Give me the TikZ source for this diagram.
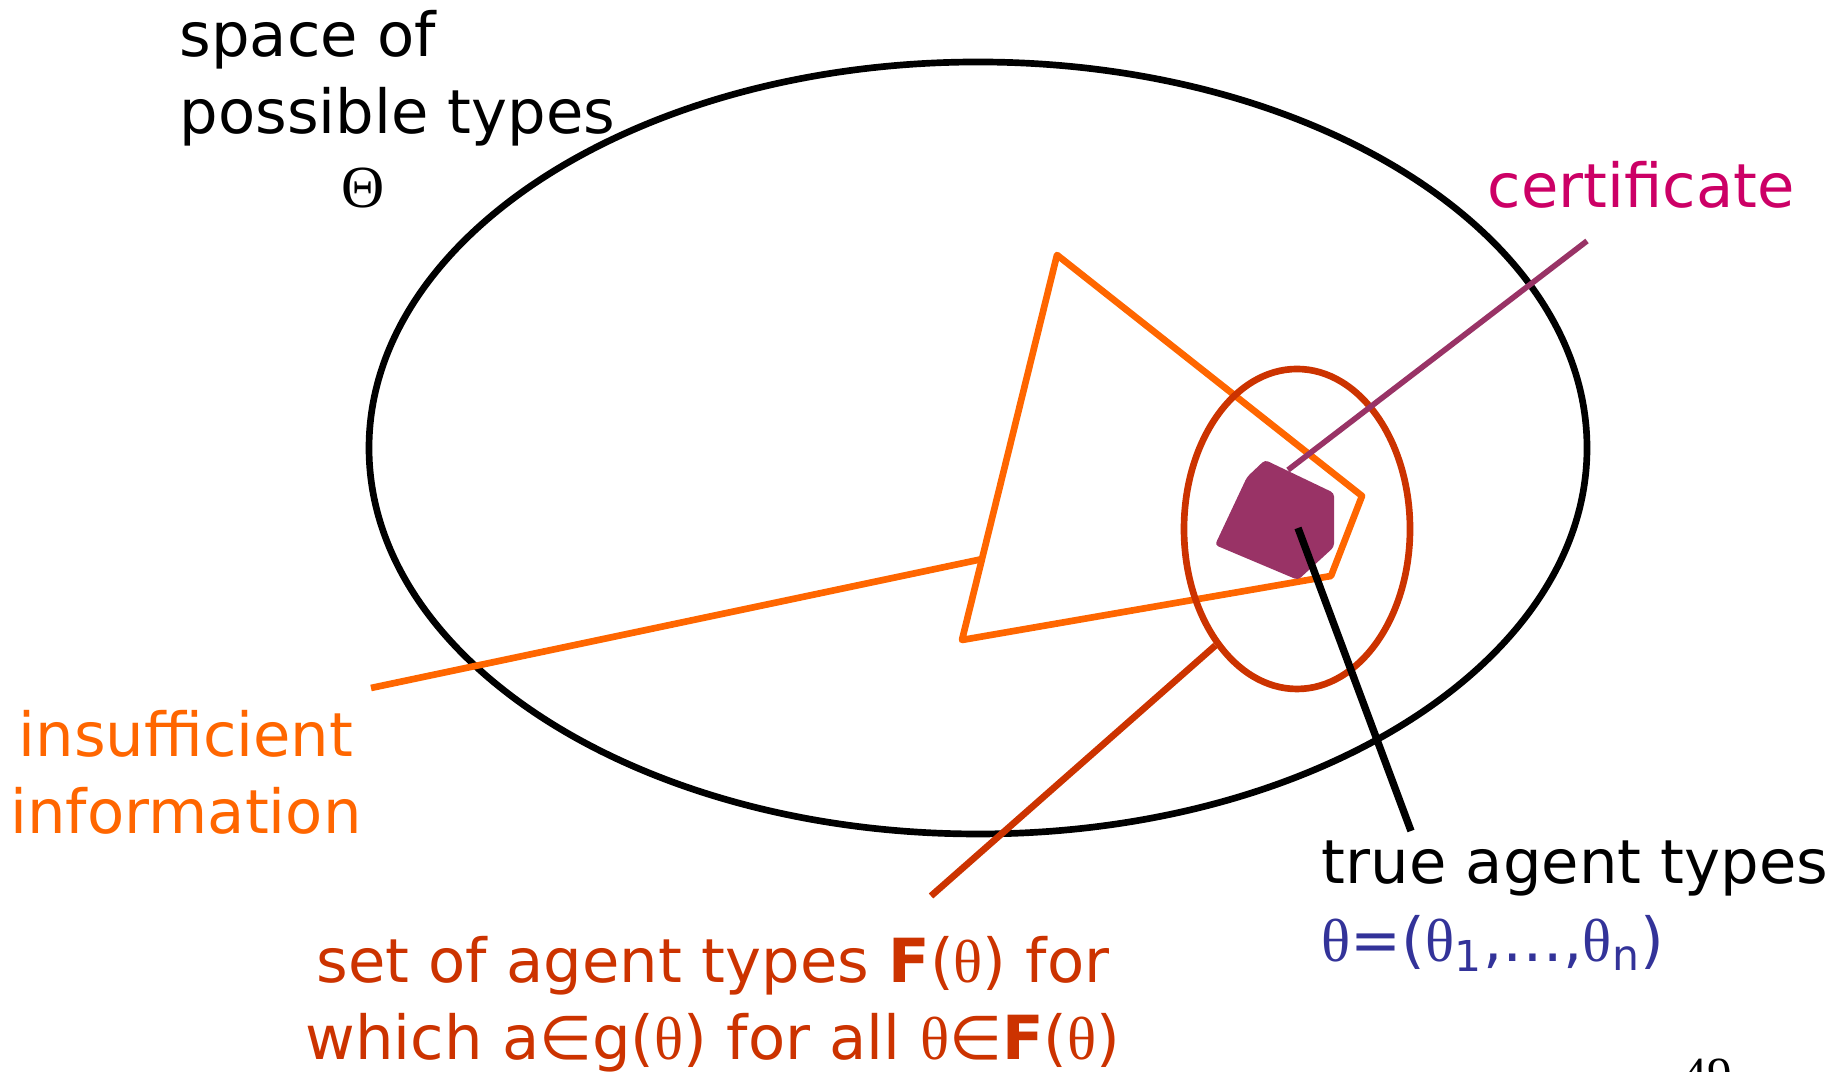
\documentclass[tikz,border=0pt]{standalone}
\usepackage{fontspec}
\setmainfont{DejaVu Sans}
\newfontfamily\greekfont{Liberation Serif}
\usetikzlibrary{shapes.geometric,calc}

\definecolor{infoorange}{HTML}{FF6600}
\definecolor{setred}{HTML}{CC3300}
\definecolor{certpurple}{HTML}{993366}
\definecolor{certpink}{HTML}{CC0066}
\definecolor{typeblue}{HTML}{333399}

\newcommand{\tht}{{\greekfont θ}}

\begin{document}
\begin{tikzpicture}[
  every node/.style={font=\fontsize{17.3}{22}\selectfont, inner sep=0pt},
  region/.style={draw, ellipse, line width=1.9pt},
  pointer/.style={line width=1.9pt},
  line join=round
]
\useasboundingbox (0,0) rectangle (18.36,10.72);

% space of possible types
\node[region, minimum width=12.18cm, minimum height=7.72cm] (typespace) at (9.78,6.24) {};
\node[anchor=north west, align=left] (spacelabel) at (1.79,10.625) {space of\\possible types};
\node[anchor=base, font=\greekfont\fontsize{17}{22}\selectfont] (Theta) at (3.63,8.64) {Θ};

% insufficient information
\coordinate (t1) at (10.57,8.17);
\coordinate (t2) at (13.62,5.76);
\coordinate (t3) at (13.31,4.96);
\coordinate (t4) at (9.62,4.32);
\draw[pointer, infoorange] (t1) -- (t2) -- (t3) -- (t4) -- cycle;
\node[anchor=north, align=center, text=infoorange] (infolabel) at (1.86,3.625) {insufficient\\information};
\coordinate (infoend) at (3.71,3.84);
\draw[pointer, infoorange] ($(t1)!0.79!(t4)$) -- (infoend);

% set F(theta)
\node[region, draw=setred, minimum width=2.26cm, minimum height=3.2cm] (setF) at (12.97,5.43) {};
\node[anchor=north, align=center, text=setred] (setlabel) at (7.13,1.365)
  {set of agent types \textbf{F}(\tht) for\\which a∈g(\tht) for all \tht∈\textbf{F}(\tht)};
\coordinate (setend) at (9.31,1.76);
\draw[pointer, setred] (setF.235) -- (setend);

% certificate
\fill[certpurple, rounded corners=1pt] (12.65,6.12) -- (12.47,5.95) -- (12.15,5.27)
  -- (12.98,4.92) -- (13.34,5.25) -- (13.34,5.79) -- cycle;
\coordinate (certstart) at (12.88,6.02);
\coordinate (certend) at (15.87,8.31);
\draw[pointer, certpurple, line width=1.6pt] (certstart) -- (certend);
\node[anchor=base west, text=certpink] (certlabel) at (14.87,8.64) {certificate};

% true agent types
\coordinate (truestart) at (12.98,5.44);
\coordinate (trueend) at (14.11,2.41);
\draw[pointer, line width=2.1pt] (truestart) -- (trueend);
\node[anchor=north west, align=left] (truelabel) at (13.21,2.315)
  {true agent types\\\textcolor{typeblue}{\tht=(\tht\textsubscript{1},…,\tht\textsubscript{n})}};

\node[anchor=north, font=\greekfont\fontsize{14}{14}\selectfont] (pagenum) at (17.07,0.14) {49};
\end{tikzpicture}
\end{document}
